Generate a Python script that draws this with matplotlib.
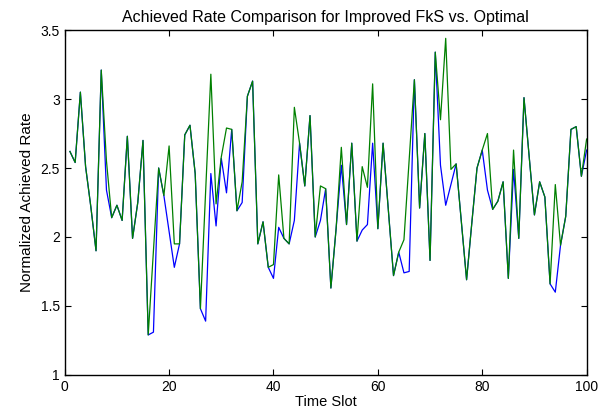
import numpy as np
import matplotlib
matplotlib.use("Agg")
import matplotlib.pyplot as plt

# datos (slot 1..100)
slots = np.arange(1, 101)

optimal = [2.62, 2.54, 3.05, 2.51, 2.22, 1.90, 3.21, 2.34, 2.14, 2.23,
           2.12, 2.73, 1.99, 2.25, 2.70, 1.29, 1.31, 2.50, 2.30, 2.04,
           1.78, 1.95, 2.74, 2.81, 2.46, 1.48, 1.39, 2.46, 2.08, 2.57,
           2.32, 2.78, 2.19, 2.25, 3.02, 3.13, 1.95, 2.11, 1.78, 1.70,
           2.07, 1.99, 1.95, 2.12, 2.68, 2.37, 2.88, 2.00, 2.12, 2.35,
           1.63, 2.06, 2.52, 2.09, 2.68, 1.97, 2.05, 2.09, 2.68, 2.06,
           2.68, 2.20, 1.72, 1.89, 1.74, 1.75, 3.14, 2.21, 2.75, 1.83,
           3.34, 2.52, 2.23, 2.38, 2.53, 2.11, 1.69, 2.10, 2.50, 2.63,
           2.34, 2.20, 2.26, 2.40, 1.70, 2.49, 1.99, 3.01, 2.58, 2.16,
           2.40, 2.29, 1.66, 1.60, 1.94, 2.15, 2.78, 2.80, 2.44, 2.63]

fks = [2.62, 2.54, 3.05, 2.51, 2.22, 1.90, 3.21, 2.55, 2.14, 2.23,
       2.12, 2.73, 1.99, 2.25, 2.70, 1.29, 1.90, 2.50, 2.30, 2.66,
       1.95, 1.95, 2.74, 2.81, 2.46, 1.48, 2.33, 3.18, 2.24, 2.58,
       2.79, 2.78, 2.19, 2.40, 3.02, 3.13, 1.95, 2.11, 1.78, 1.80,
       2.45, 1.99, 1.95, 2.94, 2.68, 2.37, 2.88, 2.00, 2.37, 2.35,
       1.63, 2.06, 2.65, 2.09, 2.68, 1.97, 2.51, 2.36, 3.11, 2.06,
       2.68, 2.20, 1.72, 1.89, 1.98, 2.56, 3.14, 2.21, 2.75, 1.83,
       3.34, 2.85, 3.44, 2.49, 2.53, 2.11, 1.69, 2.10, 2.50, 2.63,
       2.75, 2.20, 2.26, 2.40, 1.70, 2.63, 1.99, 3.01, 2.58, 2.16,
       2.40, 2.29, 1.66, 2.38, 1.94, 2.15, 2.78, 2.80, 2.44, 2.71]

plt.rcParams['font.family'] = ['Liberation Sans', 'DejaVu Sans']

fig = plt.figure(figsize=(6.14, 4.12), dpi=100)
ax = fig.add_axes([0.1054, 0.09, 0.85, 0.837])

ax.plot(slots, optimal, color=(0, 0, 1), lw=0.9)
ax.plot(slots, fks, color=(0, 0.5, 0), lw=0.9)

ax.set_xlim(0, 100)
ax.set_ylim(1, 3.5)
ax.set_xticks([0, 20, 40, 60, 80, 100])
ax.set_yticks([1, 1.5, 2, 2.5, 3, 3.5])
ax.set_yticklabels(['1', '1.5', '2', '2.5', '3', '3.5'])
ax.tick_params(direction='in', top=True, right=True, labelsize=10, length=4)
for s in ax.spines.values():
    s.set_linewidth(1.0)

ax.set_xlabel("Time Slot", fontsize=10.5, labelpad=1)
ax.set_ylabel("Normalized Achieved Rate", fontsize=11, labelpad=5)
ax.set_title("Achieved Rate Comparison for Improved FkS vs. Optimal", fontsize=11.5, pad=6)

fig.savefig("out.png", dpi=100)
